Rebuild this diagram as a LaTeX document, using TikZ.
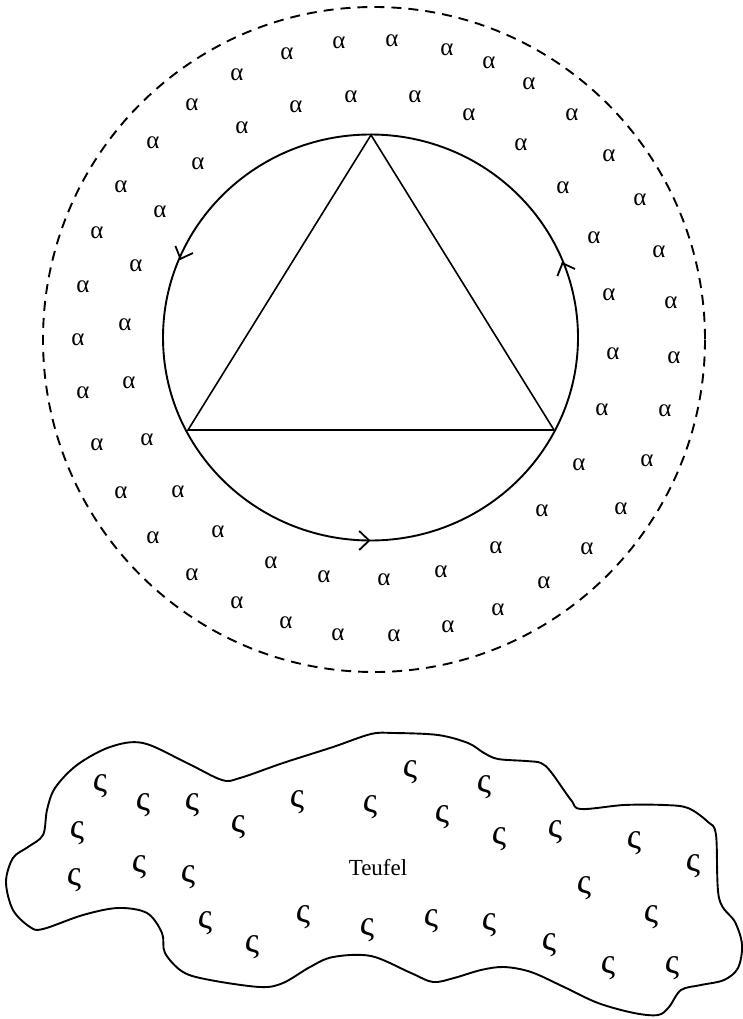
\documentclass[tikz,border=0pt]{standalone}
\usepackage{fontspec}
\setmainfont{Liberation Serif}
\usetikzlibrary{arrows.meta}
\begin{document}
\begin{tikzpicture}[x=1pt,y=-1pt,
  ring/.style={line width=1.9pt},
  dashring/.style={line width=1.9pt, dash pattern=on 10pt off 7pt},
  tri/.style={line width=1.6pt, line join=miter},
  barb/.style={line width=1.8pt, -{Straight Barb[length=10pt,width=19pt,line width=1.8pt]}},
  al/.style={inner sep=0pt, font=\fontsize{25}{25}\selectfont},
  sg/.style={inner sep=0pt, font=\fontsize{36}{36}\selectfont},
  lbl/.style={inner sep=0pt, font=\fontsize{23}{23}\selectfont},
  blob/.style={line width=1.9pt}]
\useasboundingbox (0,0) rectangle (742,1019);
% outer dashed circle
\draw[dashring] (374,339.5) ellipse [x radius=331, y radius=332.5];
% inner circle
\draw[ring] (370.5,337.5) ellipse [x radius=207.5, y radius=203];
% triangle
\coordinate (T) at (371,135);
\coordinate (L) at (188,430);
\coordinate (R) at (554,430);
\draw[tri] (T) -- (L) -- (R) -- cycle;
% arrow tips on the inner circle (counter-clockwise)
\coordinate (al1) at (180,260); \coordinate (al0) at (180.2,259.5);
\coordinate (ab1) at (370.5,540.5); \coordinate (ab0) at (370,540.5);
\coordinate (ar1) at (562,262); \coordinate (ar0) at (562.2,262.5);
\draw[barb] (al0) -- (al1);
\draw[barb] (ab0) -- (ab1);
\draw[barb] (ar0) -- (ar1);
% alphas
\foreach \p [count=\i] in {
 {339,43},{287,54},{237,75},{351,97},{296,107},{192,105},{242,128},{153,143},
 {198,164},{121,187},{160,212},{97,233},{136,266},{83,287},{125,325},{78,340},
 {392,41},{447,50},{489,63},{529,84},{415,97},{469,115},{572,115},{521,145},
 {609,156},{563,188},{640,200},{594,238},{659,252},{609,295},{671,303},
 {129,383},{83,393},{147,440},{97,445},{178,492},{121,493},{218,532},{153,538},
 {271,563},{192,575},{324,577},{237,603},{286,623},{338,635},
 {613,354},{674,358},{602,410},{665,411},{579,465},{647,461},{542,511},{621,509},
 {496,548},{587,549},{384,580},{441,572},{544,583},{498,610},{394,636},{448,627}}
 \node[al] (alpha\i) at (\p) {α};
% cloud
\draw[blob] plot[smooth cycle, tension=0.55] coordinates {
 (222,780) (187,763) (143,743) (110,747) (77,765) (55,788) (47,810) (43,835)
 (28,847) (13,858) (6,882) (13,910) (30,927) (43,929) (83,915) (118,908)
 (147,913) (162,933) (165,953) (183,972) (210,980) (260,987) (283,983)
 (310,967) (333,957) (371,956) (411,973) (433,982) (454,978) (481,970)
 (504,967) (531,972) (564,987) (598,1003) (634,1013) (658,1015) (669,1007)
 (681,990) (701,985) (724,980) (738,968) (742,945) (735,922) (719,898)
 (716,835) (708,822) (688,808) (664,805) (624,805) (581,809) (571,800)
 (551,772) (541,763) (526,761) (498,759) (484,753) (468,743) (438,735)
 (394,733) (371,734) (333,747) (283,763) (240,778)};
% sigmas
\foreach \p [count=\i] in {
 {100,786},{143,805},{192,805},{238,827},{297,802},{370,807},{77,833},
 {139,867},{188,877},{74,880},{205,923},{303,917},{252,947},{367,930},
 {410,772},{484,787},{442,817},{499,839},{555,832},{634,843},{693,866},
 {584,888},{651,917},{431,921},{489,925},{549,945},{608,968},{672,968}}
 \node[sg] (sigma\i) at (\p) {ς};
\node[lbl] (teufel) at (378,868) {Teufel};
\end{tikzpicture}
\end{document}
